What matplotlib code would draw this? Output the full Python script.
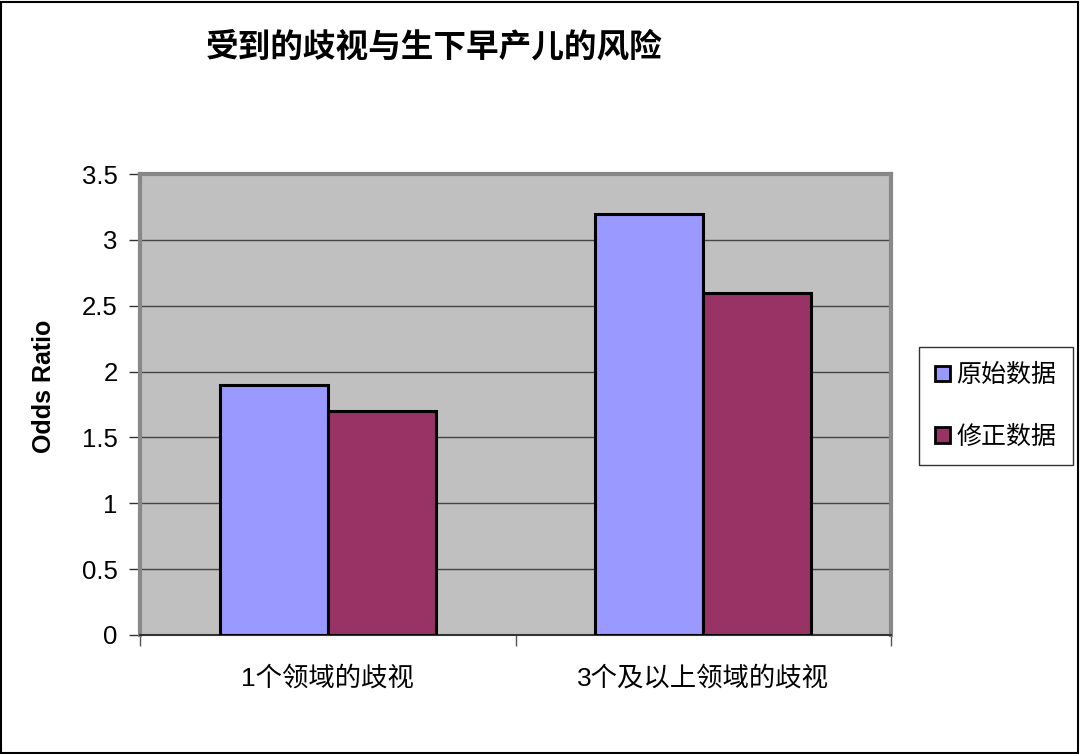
import matplotlib
matplotlib.use("Agg")
import matplotlib.pyplot as plt
from matplotlib.patches import Rectangle, Patch
import numpy as np

plt.rcParams['font.family'] = ['Liberation Sans', 'Noto Sans CJK SC', 'DejaVu Sans']

# data
categories = ["1个领域的歧视", "3个及以上领域的歧视"]
series_names = ["原始数据", "修正数据"]
raw_values = [1.9, 3.2]
adjusted_values = [1.7, 2.6]
yticks = [0, 0.5, 1, 1.5, 2, 2.5, 3, 3.5]
ytick_labels = ["0", "0.5", "1", "1.5", "2", "2.5", "3", "3.5"]

COL_RAW = "#9999FF"
COL_ADJ = "#993366"
BG = "#C0C0C0"

fig = plt.figure(figsize=(10.8, 7.54), dpi=100)
ax = fig.add_axes([140 / 1080, 1 - 635 / 754, (891 - 140) / 1080, (635 - 174) / 754])
ax.set_facecolor(BG)

x = np.arange(1, len(categories) + 1)
w = 0.287
ax.bar(x - w / 2, raw_values, width=w, color=COL_RAW, edgecolor="black", linewidth=2.2, zorder=3)
ax.bar(x + w / 2, adjusted_values, width=w, color=COL_ADJ, edgecolor="black", linewidth=2.2, zorder=3)

ax.set_xlim(0.5, len(categories) + 0.5)
ax.set_ylim(0, 3.5)
ax.set_yticks(yticks)
ax.set_yticklabels(ytick_labels, fontsize=18.5)
ax.yaxis.grid(True, color="#444444", linewidth=1.0, zorder=1)
ax.set_axisbelow(True)

# category boundaries as major ticks, labels on minor ticks
ax.set_xticks(np.arange(0.5, len(categories) + 1, 1.0))
ax.set_xticklabels([])
ax.set_xticks(x, minor=True)
ax.set_xticklabels(categories, minor=True, fontsize=19)
ax.tick_params(axis="x", which="major", length=8, width=1, color="#555555")
ax.tick_params(axis="x", which="minor", length=0, pad=22)
ax.tick_params(axis="y", length=8, width=1, color="#333333", pad=8)

for side in ["left", "top", "right"]:
    ax.spines[side].set_color("#888888")
    ax.spines[side].set_linewidth(3)
ax.spines["bottom"].set_color("#333333")
ax.spines["bottom"].set_linewidth(1.5)

ax.set_ylabel("Odds Ratio", fontsize=18, fontweight="bold")
ax.yaxis.set_label_coords(-0.112, 0.54)

fig.text(434 / 1080, 1 - 48 / 754, "受到的歧视与生下早产儿的风险", fontsize=23.5,
         fontweight="bold", ha="center", va="center")

handles = [Patch(facecolor=COL_RAW, edgecolor="black", linewidth=2),
           Patch(facecolor=COL_ADJ, edgecolor="black", linewidth=2)]
leg = fig.legend(handles, series_names, loc="center left",
                 bbox_to_anchor=(919 / 1080, 1 - 406 / 754), fontsize=18,
                 frameon=True, fancybox=False, edgecolor="black",
                 handlelength=0.6, handleheight=0.6, handletextpad=0.25,
                 labelspacing=1.5, borderpad=0.65, borderaxespad=0)
leg.get_frame().set_linewidth(1)

# outer border
fig.patches.append(Rectangle((0.001, 0.001), 0.997, 0.997, transform=fig.transFigure,
                             fill=False, edgecolor="black", linewidth=1.5))

fig.savefig("out.png", dpi=100)
